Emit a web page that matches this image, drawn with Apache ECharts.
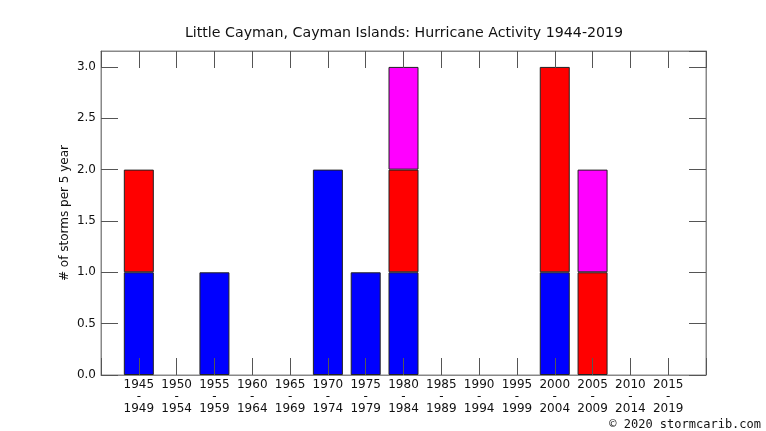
<!DOCTYPE html>
<html>
<head>
<meta charset="utf-8">
<script src="https://cdn.jsdelivr.net/npm/echarts@6/dist/echarts.min.js"></script>
<style>html,body{margin:0;padding:0;background:#fff}#c{width:766px;height:431px}</style>
</head>
<body>
<div id="c"></div>
<script>
const periodStarts = [1945,1950,1955,1960,1965,1970,1975,1980,1985,1990,1995,2000,2005,2010,2015];
const blueCounts   = [1,0,1,0,0,2,1,1,0,0,0,1,0,0,0];
const redCounts    = [1,0,0,0,0,0,0,1,0,0,0,2,1,0,0];
const magentaCounts= [0,0,0,0,0,0,0,1,0,0,0,0,1,0,0];
const yTicks = [0,0.5,1,1.5,2,2.5,3];

// axis runs one 5-year step before the first and after the last period
const axisCats = [String(periodStarts[0]-5)].concat(periodStarts.map(String), [String(periodStarts[periodStarts.length-1]+5)]);
function padded(arr){ return [null].concat(arr.map(v=> v>0 ? v : null), [null]); }

const font = 'DejaVu Sans';
const tickColor = '#555';
const frameColor = '#888';

const chart = echarts.init(document.getElementById('c'));
const barStyle = c => ({color:c, borderColor:'#222', borderWidth:1, borderRadius:0});
const xCommon = {
  type:'category', data:axisCats, boundaryGap:false, z:5,
  splitLine:{show:false},
  axisLine:{show:true, onZero:false, lineStyle:{color:frameColor}},
  axisTick:{show:true, inside:true, length:17, interval:0, lineStyle:{color:tickColor}}
};
chart.setOption({
  animation:false,
  grid:{left:101, right:60, top:51, bottom:56, show:true, borderColor:frameColor, borderWidth:1},
  xAxis:[Object.assign({}, xCommon, {
    position:'bottom',
    axisLabel:{fontFamily:font, fontSize:12, color:'#111', lineHeight:12, margin:4, interval:0,
      formatter:v=> { const n = Number(v); return periodStarts.indexOf(n)>=0 ? (n+'\n-\n'+(n+4)) : ''; }}
  }), Object.assign({}, xCommon, {
    position:'top', axisLabel:{show:false}
  })],
  yAxis:[{
    type:'value', min:0, max:3.155, interval:0.5, position:'left', z:5,
    name:'# of storms per 5 year', nameLocation:'middle', nameGap:30, nameRotate:90, nameMoveOverlap:false,
    nameTextStyle:{fontFamily:font, fontSize:12, color:'#111'},
    splitLine:{show:false},
    axisLine:{show:true, lineStyle:{color:frameColor}},
    axisTick:{show:true, inside:true, length:17, lineStyle:{color:tickColor}},
    axisLabel:{fontFamily:font, fontSize:12, color:'#111', margin:5, showMaxLabel:false,
      formatter:v=> yTicks.indexOf(v)>=0 ? v.toFixed(1) : ''}
  },{
    type:'value', min:0, max:3.155, interval:0.5, position:'right', z:5,
    splitLine:{show:false},
    axisLine:{show:true, lineStyle:{color:frameColor}},
    axisTick:{show:true, inside:true, length:17, lineStyle:{color:tickColor}},
    axisLabel:{show:false}
  }],
  series:[
    {type:'bar', stack:'s', barWidth:30, data:padded(blueCounts), itemStyle:barStyle('#0000ff')},
    {type:'bar', stack:'s', barWidth:30, data:padded(redCounts), itemStyle:barStyle('#ff0000')},
    {type:'bar', stack:'s', barWidth:30, data:padded(magentaCounts), itemStyle:barStyle('#ff00ff')}
  ],
  graphic:[
    {type:'text', x:404, y:33,
      style:{text:'Little Cayman, Cayman Islands: Hurricane Activity 1944-2019', fontFamily:font, fontSize:14.2,
        fill:'#111', align:'center', verticalAlign:'middle'}},
    {type:'text', right:5, top:419,
      style:{text:'\u00a9 2020 stormcarib.com', fontFamily:'DejaVu Sans Mono', fontSize:12, fill:'#111'}}
  ]
});
</script>
</body>
</html>
